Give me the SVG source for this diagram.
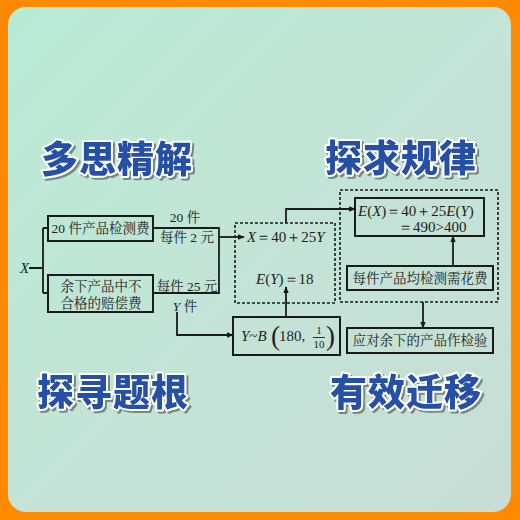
<svg xmlns="http://www.w3.org/2000/svg" width="520" height="520" viewBox="0 0 520 520">
<defs>
<linearGradient id="bg" x1="0" y1="0" x2="1" y2="1">
<stop offset="0" stop-color="#b7ebd4"/>
<stop offset="0.5" stop-color="#c3e4d6"/>
<stop offset="1" stop-color="#c8ddd5"/>
</linearGradient>
<filter id="sh" x="-10%" y="-20%" width="130%" height="150%">
<feDropShadow dx="2" dy="2" stdDeviation="0.6" flood-color="#6f7f7c" flood-opacity="0.9"/>
</filter>
<marker id="ah" viewBox="0 0 10 10" refX="9" refY="5" markerWidth="7" markerHeight="7" markerUnits="userSpaceOnUse" orient="auto">
<path d="M0,1 L10,5 L0,9 z" fill="#1a1a1a"/>
</marker>
</defs>
<style>
.box{fill:none;stroke:#1a1a1a;stroke-width:2}
.dash{fill:none;stroke:#1a1a1a;stroke-width:1.6;stroke-dasharray:3 2}
.ln{fill:none;stroke:#1a1a1a;stroke-width:1.8}
.t{font-family:"Liberation Serif","Noto Serif CJK SC","Noto Sans CJK SC",serif;font-size:13.5px;fill:#1e1e1e}
.m{font-family:"Liberation Serif",serif;font-size:15px;fill:#1e1e1e}
.sm{font-size:11px}
.par{font-size:27px;font-weight:300}
.i{font-style:italic}
.title{font-family:"Noto Sans CJK SC",sans-serif;font-weight:900;font-size:37px;letter-spacing:1px;fill:#2550a6;stroke:#ffffff;stroke-width:4;paint-order:stroke;stroke-linejoin:round;filter:url(#sh)}
</style>
<rect x="0" y="0" width="520" height="520" fill="#ff8a00"/>
<rect x="8" y="7" width="503" height="505" rx="18" fill="url(#bg)"/>

<g id="titles">
<text class="title" x="41" y="173">多思精解</text>
<text class="title" x="325" y="172">探求规律</text>
<text class="title" x="37" y="406">探寻题根</text>
<text class="title" x="330" y="406">有效迁移</text>
</g>

<g id="connectors">
<path class="ln" d="M29,268 H43 M43,228 V293 M43,228 H48 M43,293 H48"/>
<path class="ln" d="M153,228 H219 V293 H153"/>
<path class="ln" d="M219,237 H244" marker-end="url(#ah)"/>
<path class="ln" d="M177,312 V335 H233" marker-end="url(#ah)"/>
<path class="ln" d="M286,317 V287" marker-end="url(#ah)"/>
<path class="ln" d="M286,223 V209 H355" marker-end="url(#ah)"/>
<path class="ln" d="M453,266 V236" marker-end="url(#ah)"/>
<path class="ln" d="M423,302 V328" marker-end="url(#ah)"/>
<text class="t" x="185" y="222" text-anchor="middle">20 件</text>
<text class="t" x="187" y="242" text-anchor="middle">每件 2 元</text>
<text class="t" x="187" y="291" text-anchor="middle">每件 25 元</text>
<text class="t" x="185" y="311" text-anchor="middle"><tspan class="i">Y</tspan> 件</text>
</g>

<g id="nodeX">
<text class="m i" x="20" y="273">X</text>
</g>

<g id="box1">
<rect class="box" x="48" y="216" width="105" height="25"/>
<text class="t" x="100.5" y="233" text-anchor="middle">20 件产品检测费</text>
</g>

<g id="box2">
<rect class="box" x="48" y="275" width="105" height="37"/>
<text class="t" x="101" y="291" text-anchor="middle">余下产品中不</text>
<text class="t" x="101" y="308" text-anchor="middle">合格的赔偿费</text>
</g>

<g id="dash1">
<rect class="dash" x="235" y="223" width="100" height="80"/>
<text class="m" x="247" y="242"><tspan class="i">X</tspan>＝40＋25<tspan class="i">Y</tspan></text>
<text class="m" x="256" y="284"><tspan class="i">E</tspan>(<tspan class="i">Y</tspan>)＝18</text>
</g>

<g id="boxB">
<rect class="box" x="233" y="317" width="107" height="38"/>
<text class="m" x="241" y="341"><tspan class="i">Y</tspan>~<tspan class="i">B</tspan></text>
<text class="m par" x="271" y="345">(</text>
<text class="m" x="279" y="341">180,</text>
<text class="m sm" x="319" y="334" text-anchor="middle">1</text>
<line x1="313" y1="337.5" x2="325" y2="337.5" stroke="#1e1e1e" stroke-width="0.9"/>
<text class="m sm" x="319" y="348" text-anchor="middle">10</text>
<text class="m par" x="326" y="345">)</text>
</g>

<g id="dash2">
<rect class="dash" x="340" y="190" width="158" height="112"/>
</g>

<g id="boxEX">
<rect class="box" x="355" y="198" width="129" height="38"/>
<text class="m" x="358" y="216"><tspan class="i">E</tspan>(<tspan class="i">X</tspan>)＝40＋25<tspan class="i">E</tspan>(<tspan class="i">Y</tspan>)</text>
<text class="m" x="398" y="232">＝490&gt;400</text>
</g>

<g id="boxCost">
<rect class="box" x="347" y="266" width="146" height="24"/>
<text class="t" x="420" y="283" text-anchor="middle">每件产品均检测需花费</text>
</g>

<g id="boxCheck">
<rect class="box" x="347" y="328" width="146" height="25"/>
<text class="t" x="420" y="345" text-anchor="middle">应对余下的产品作检验</text>
</g>
</svg>
